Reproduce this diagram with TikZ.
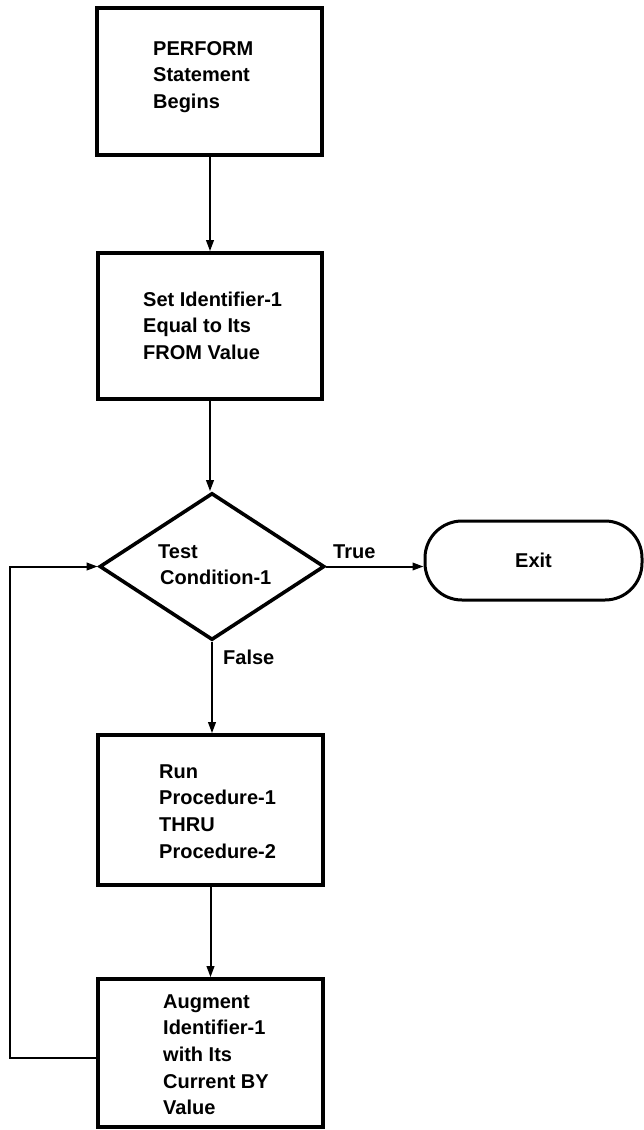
\documentclass[tikz,border=0pt]{standalone}
\usepackage{fontspec}
\setmainfont{Liberation Sans}
\usetikzlibrary{arrows.meta,shapes.geometric}

% left-aligned stack of lines whose baseline is that of the first line
\newcommand\lns[1]{\vtop{\halign{##\hfil\cr#1\crcr}}}

\tikzset{
  chart/.style={x=1pt,y=-1pt},
  txt/.style={font=\bfseries\fontsize{20}{26.7}\selectfont, inner sep=0pt, anchor=base west},
  procbox/.style={draw, line width=3.6pt, rectangle, inner sep=0pt},
  decision/.style={draw, line width=3.6pt, diamond, inner sep=0pt, minimum width=225pt, minimum height=147pt},
  terminal/.style={draw, line width=3pt, rectangle, rounded corners=37pt, inner sep=0pt,
    minimum width=217pt, minimum height=79pt, font=\bfseries\fontsize{20}{26.7}\selectfont},
  flow/.style={line width=2pt, -{Triangle[length=11pt,width=7.5pt]}},
}

\begin{document}
\begin{tikzpicture}[chart]
\useasboundingbox (0,0) rectangle (644,1130);

% boxes
\node[procbox, minimum width=225pt, minimum height=147pt] (start) at (209.5,81.5) {};
\node[procbox, minimum width=224pt, minimum height=146pt] (init) at (210,326) {};
\node[decision] (test) at (212,566.5) {};
\node[terminal] (exit) at (533.5,560.5) {Exit};
\node[procbox, minimum width=225pt, minimum height=150pt] (run) at (210.5,810) {};
\node[procbox, minimum width=225pt, minimum height=148pt] (aug) at (210.5,1053) {};

% box texts
\node[txt] (tstart) at (153,55) {\lns{PERFORM\cr Statement\cr Begins}};
\node[txt] (tinit) at (143,306) {\lns{Set Identifier-1\cr Equal to Its\cr FROM Value}};
\node[txt] (ttest) at (158,558) {\lns{Test\cr \kern2pt Condition-1}};
\node[txt] (trun) at (159,778) {\lns{Run\cr Procedure-1\cr THRU\cr Procedure-2}};
\node[txt] (taug) at (163,1008) {\lns{Augment\cr Identifier-1\cr with Its\cr Current BY\cr Value}};
\node[txt] (ltrue) at (333,558) {True};
\node[txt] (lfalse) at (223,664) {False};

% connectors
\draw[flow] (start.south -| init.north) -- (init.north);
\draw[flow] (init.south) -- (init.south |- test.north);
\draw[flow] (test.east) -- (test.east -| exit.west);
\draw[flow] (test.south) -- (test.south |- run.north);
\draw[flow] (run.south) -- (aug.north);
\coordinate (loop) at (10,1058);
\draw[flow] (aug.west |- loop) -- (loop) |- (test.west);
\end{tikzpicture}
\end{document}
